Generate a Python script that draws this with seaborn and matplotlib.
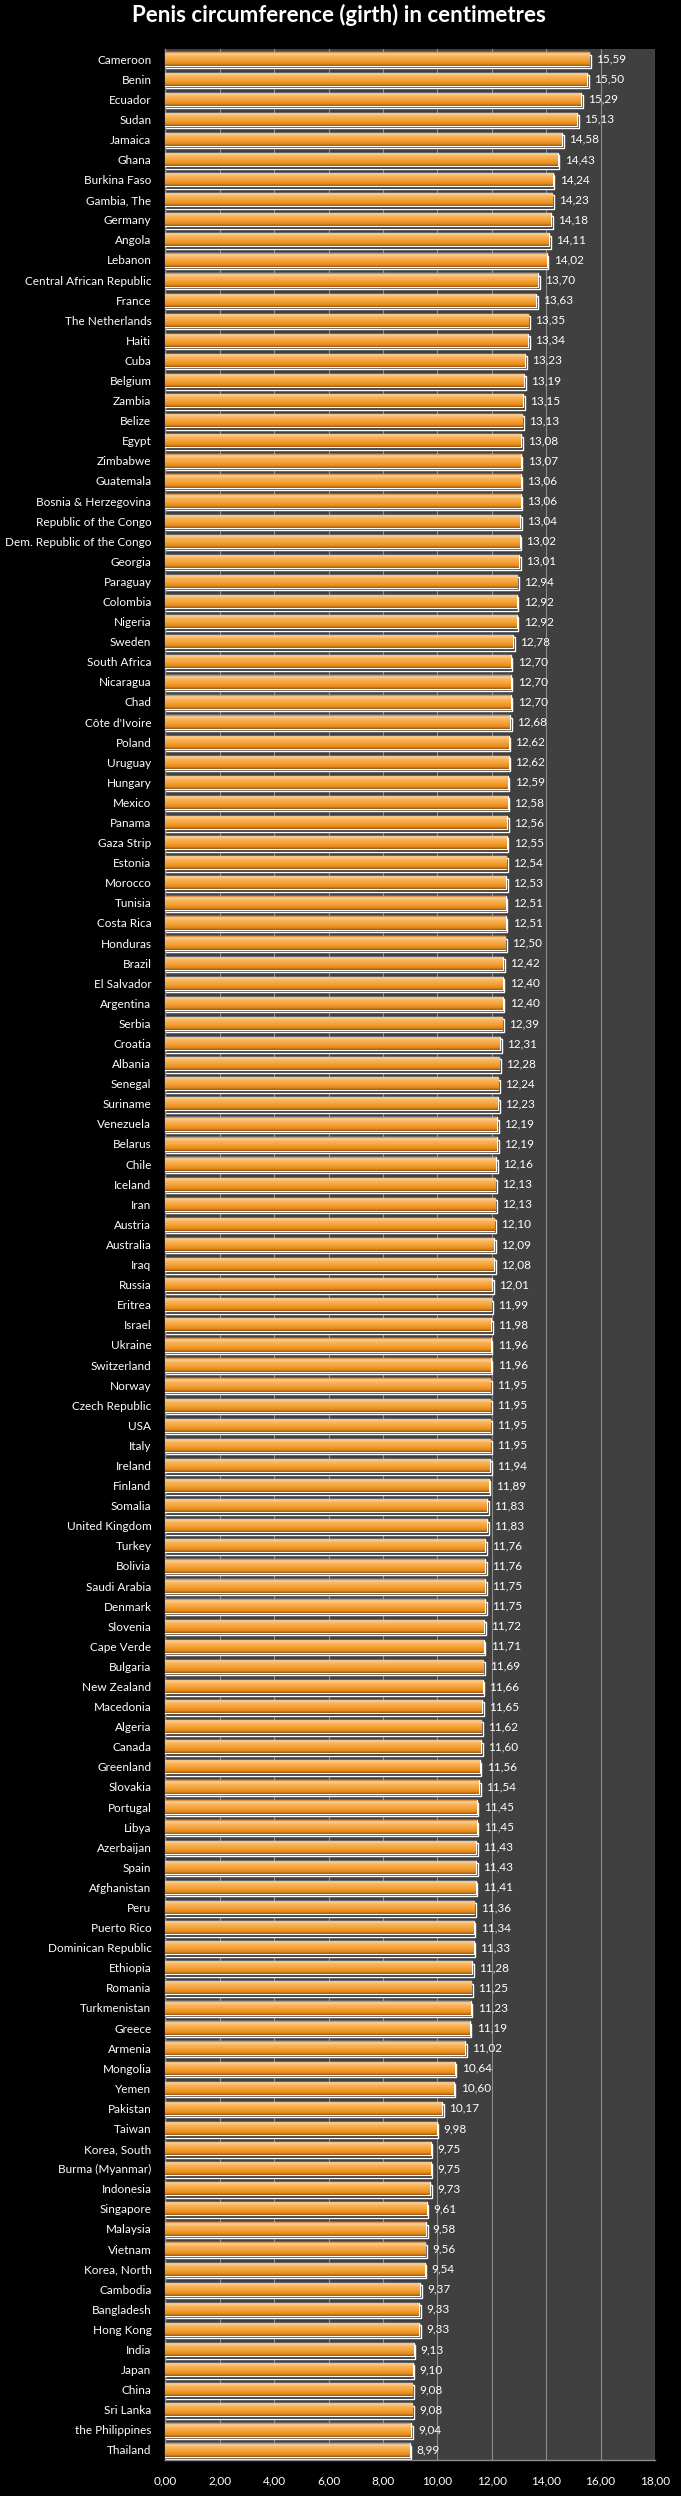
import numpy as np
import pandas as pd
import matplotlib
matplotlib.use("Agg")
import matplotlib.pyplot as plt
from matplotlib.colors import LinearSegmentedColormap
from matplotlib.ticker import FuncFormatter
import seaborn as sns

# -----------------------
# data
# -----------------------
countries = [
    "Cameroon", "Benin", "Ecuador", "Sudan", "Jamaica", "Ghana", "Burkina Faso",
    "Gambia, The", "Germany", "Angola", "Lebanon", "Central African Republic",
    "France", "The Netherlands", "Haiti", "Cuba", "Belgium", "Zambia", "Belize",
    "Egypt", "Zimbabwe", "Guatemala", "Bosnia & Herzegovina",
    "Republic of the Congo", "Dem. Republic of the Congo", "Georgia", "Paraguay",
    "Colombia", "Nigeria", "Sweden", "South Africa", "Nicaragua", "Chad",
    "Côte d'Ivoire", "Poland", "Uruguay", "Hungary", "Mexico", "Panama",
    "Gaza Strip", "Estonia", "Morocco", "Tunisia", "Costa Rica", "Honduras",
    "Brazil", "El Salvador", "Argentina", "Serbia", "Croatia", "Albania",
    "Senegal", "Suriname", "Venezuela", "Belarus", "Chile", "Iceland", "Iran",
    "Austria", "Australia", "Iraq", "Russia", "Eritrea", "Israel", "Ukraine",
    "Switzerland", "Norway", "Czech Republic", "USA", "Italy", "Ireland",
    "Finland", "Somalia", "United Kingdom", "Turkey", "Bolivia", "Saudi Arabia",
    "Denmark", "Slovenia", "Cape Verde", "Bulgaria", "New Zealand", "Macedonia",
    "Algeria", "Canada", "Greenland", "Slovakia", "Portugal", "Libya",
    "Azerbaijan", "Spain", "Afghanistan", "Peru", "Puerto Rico",
    "Dominican Republic", "Ethiopia", "Romania", "Turkmenistan", "Greece",
    "Armenia", "Mongolia", "Yemen", "Pakistan", "Taiwan", "Korea, South",
    "Burma (Myanmar)", "Indonesia", "Singapore", "Malaysia", "Vietnam",
    "Korea, North", "Cambodia", "Bangladesh", "Hong Kong", "India", "Japan",
    "China", "Sri Lanka", "the Philippines", "Thailand",
]

girth_cm = [
    15.59, 15.50, 15.29, 15.13, 14.58, 14.43, 14.24, 14.23, 14.18, 14.11,
    14.02, 13.70, 13.63, 13.35, 13.34, 13.23, 13.19, 13.15, 13.13, 13.08,
    13.07, 13.06, 13.06, 13.04, 13.02, 13.01, 12.94, 12.92, 12.92, 12.78,
    12.70, 12.70, 12.70, 12.68, 12.62, 12.62, 12.59, 12.58, 12.56, 12.55,
    12.54, 12.53, 12.51, 12.51, 12.50, 12.42, 12.40, 12.40, 12.39, 12.31,
    12.28, 12.24, 12.23, 12.19, 12.19, 12.16, 12.13, 12.13, 12.10, 12.09,
    12.08, 12.01, 11.99, 11.98, 11.96, 11.96, 11.95, 11.95, 11.95, 11.95,
    11.94, 11.89, 11.83, 11.83, 11.76, 11.76, 11.75, 11.75, 11.72, 11.71,
    11.69, 11.66, 11.65, 11.62, 11.60, 11.56, 11.54, 11.45, 11.45, 11.43,
    11.43, 11.41, 11.36, 11.34, 11.33, 11.28, 11.25, 11.23, 11.19, 11.02,
    10.64, 10.60, 10.17, 9.98, 9.75, 9.75, 9.73, 9.61, 9.58, 9.56,
    9.54, 9.37, 9.33, 9.33, 9.13, 9.10, 9.08, 9.08, 9.04, 8.99,
]

x_ticks = [0, 2, 4, 6, 8, 10, 12, 14, 16, 18]
title = "Penis circumference (girth) in centimetres"

df = pd.DataFrame({"country": countries, "girth": girth_cm})

# -----------------------
# style
# -----------------------
sns.set_theme(style="dark")
plt.rcParams["font.family"] = ["Lato", "DejaVu Sans"]

fig = plt.figure(figsize=(6.81, 24.96), dpi=100, facecolor="black")
ax = fig.add_axes([0.2427, 0.01442, 0.9618 - 0.2427, 0.98037 - 0.01442])
ax.set_facecolor("#404040")

bar_h = 0.66
sns.barplot(data=df, y="country", x="girth", orient="h", ax=ax,
            color="#F5A033", width=bar_h, saturation=1, zorder=3)

# drop shadow under each bar
ax.barh(np.arange(len(df)) + 0.12, df["girth"] + 0.06, height=bar_h,
        color="#262626", zorder=2)

# 3d-ish gradient on the bars
grad_cmap = LinearSegmentedColormap.from_list(
    "bevel",
    [(0.0, "#C8782A"), (0.10, "#FBD29A"), (0.30, "#F9B55E"),
     (0.60, "#F4A032"), (0.85, "#E38A1C"), (1.0, "#9E5410")])
grad = np.linspace(0, 1, 64).reshape(-1, 1)
for p in ax.patches[:len(df)]:
    x0, y0 = p.get_x(), p.get_y()
    w, h = p.get_width(), p.get_height()
    im = ax.imshow(grad, cmap=grad_cmap, aspect="auto", origin="upper",
                   extent=(x0, x0 + w, y0 + h, y0), zorder=4,
                   interpolation="bilinear")
    im.set_clip_path(p)

ax.set_ylim(len(df) - 0.5, -0.5)
ax.set_xlim(0, 18)
ax.set_xticks(x_ticks)
ax.xaxis.set_major_formatter(FuncFormatter(lambda v, _: f"{v:.2f}".replace(".", ",")))

labels = [f"{v:.2f}".replace(".", ",") for v in girth_cm]
ax.bar_label(ax.containers[0], labels=labels, padding=5, color="white",
             fontsize=8.5, zorder=6)

ax.grid(axis="x", color="#8C8C8C", linewidth=0.8, zorder=1)
ax.grid(axis="y", visible=False)
ax.set_axisbelow(True)

for side in ["top", "right"]:
    ax.spines[side].set_visible(False)
for side in ["left", "bottom"]:
    ax.spines[side].set_visible(True)
    ax.spines[side].set_color("#8C8C8C")
    ax.spines[side].set_linewidth(1.0)

ax.tick_params(axis="y", length=0, pad=10, labelsize=8.5, labelcolor="white")
ax.tick_params(axis="x", length=0, pad=11, labelsize=8.5, labelcolor="white")
ax.set_xlabel("")
ax.set_ylabel("")

fig.text(0.497, 0.9939, title, ha="center", va="center", color="white",
         fontsize=16, fontweight="bold")

fig.savefig("out.png", dpi=100, facecolor="black")
